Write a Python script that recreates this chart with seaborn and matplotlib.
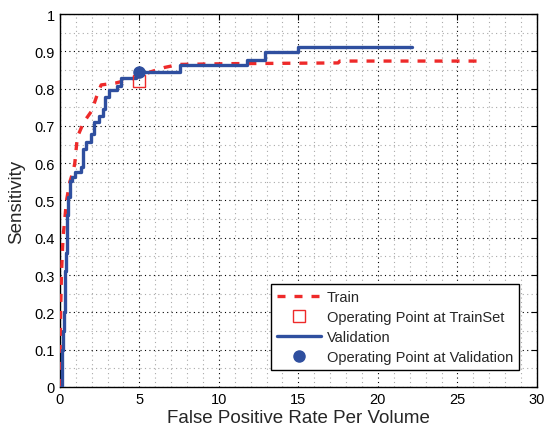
import matplotlib
matplotlib.use("Agg")
import matplotlib.pyplot as plt
from matplotlib.lines import Line2D
from matplotlib.ticker import MultipleLocator
import seaborn as sns
import pandas as pd

# ---- data ----
train_fpr = [0.0, 0.02, 0.05, 0.10, 0.20, 0.42, 0.63, 0.85, 0.94, 1.10, 1.50, 2.00,
             2.40, 2.60, 3.50, 4.40, 5.20, 5.70, 6.60, 7.50, 10.7, 17.5, 17.6, 26.6]
train_sens = [0.0, 0.10, 0.20, 0.30, 0.40, 0.50, 0.55, 0.58, 0.60, 0.67, 0.71, 0.74,
              0.79, 0.81, 0.815, 0.825, 0.835, 0.845, 0.857, 0.865, 0.867, 0.869, 0.874, 0.874]

val_fpr = [0.10, 0.12, 0.15, 0.20, 0.25, 0.30, 0.34, 0.38, 0.42, 0.46, 0.52, 0.63,
           0.75, 0.95, 1.30, 1.47, 1.64, 1.99, 2.16, 2.47, 2.69, 2.83, 3.10, 3.57,
           3.82, 4.78, 4.95, 7.55, 11.74, 12.90, 14.99, 22.16]
val_sens = [0.00, 0.05, 0.10, 0.15, 0.20, 0.26, 0.31, 0.36, 0.42, 0.46, 0.51, 0.553,
            0.562, 0.576, 0.59, 0.638, 0.658, 0.678, 0.71, 0.727, 0.745, 0.777, 0.797, 0.808,
            0.828, 0.839, 0.845, 0.863, 0.877, 0.899, 0.913, 0.913]

op_train = (5.0, 0.82)
op_val = (5.0, 0.845)

labels = ["Train", "Operating Point at TrainSet", "Validation", "Operating Point at Validation"]
ytick_vals = [0, 0.1, 0.2, 0.3, 0.4, 0.5, 0.6, 0.7, 0.8, 0.9, 1]
ytick_labels = ["0", "0.1", "0.2", "0.3", "0.4", "0.5", "0.6", "0.7", "0.8", "0.9", "1"]

RED = "#ee2a2a"
BLUE = "#2f4f9f"

sns.set_style("white")
plt.rcParams["font.family"] = ["Liberation Sans", "DejaVu Sans"]

fig = plt.figure(figsize=(5.44, 4.31), dpi=100)
ax = fig.add_axes([0.110, 0.100, 0.877, 0.865])

train_df = pd.DataFrame({"fpr": train_fpr, "sens": train_sens})
val_df = pd.DataFrame({"fpr": val_fpr, "sens": val_sens})

sns.lineplot(data=train_df, x="fpr", y="sens", ax=ax, color=RED, lw=2.4,
             sort=False, estimator=None, zorder=3)
ax.lines[-1].set_dashes((2.4, 2.7))
sns.lineplot(data=val_df, x="fpr", y="sens", ax=ax, color=BLUE, lw=2.4,
             sort=False, estimator=None, drawstyle="steps-post", zorder=4)
ax.plot([op_train[0]], [op_train[1]], marker="s", ms=9, mfc="none", mec=RED,
        mew=1.0, ls="none", zorder=5)
ax.plot([op_val[0]], [op_val[1]], marker="o", ms=8, mfc=BLUE, mec=BLUE,
        ls="none", zorder=6)

ax.set_xlim(0, 30)
ax.set_ylim(0, 1)
ax.xaxis.set_major_locator(MultipleLocator(5))
ax.xaxis.set_minor_locator(MultipleLocator(1))
ax.set_yticks(ytick_vals)
ax.set_yticklabels(ytick_labels)
ax.yaxis.set_minor_locator(MultipleLocator(0.05))

ax.grid(True, which="major", color="black", ls=(0, (1, 3)), lw=0.8)
ax.grid(True, which="minor", color="#aaaaaa", ls=(0, (1, 3)), lw=0.8)
ax.set_axisbelow(True)
ax.tick_params(which="both", direction="in", top=True, right=True, labelsize=10.5,
               length=4, width=0.8, colors="black")
ax.tick_params(which="minor", length=0)
for s in ax.spines.values():
    s.set_color("black")
    s.set_linewidth(1.0)

ax.set_xlabel("False Positive Rate Per Volume", fontsize=13.5, labelpad=2)
ax.set_ylabel("Sensitivity", fontsize=13.5, labelpad=7)

handles = [
    Line2D([], [], color=RED, lw=2.4, dashes=(2.4, 2.7)),
    Line2D([], [], marker="s", ms=9, mfc="none", mec=RED, mew=1.0, ls="none"),
    Line2D([], [], color=BLUE, lw=2.4),
    Line2D([], [], marker="o", ms=8, mfc=BLUE, mec=BLUE, ls="none"),
]
leg = ax.legend(handles, labels, loc="lower right", bbox_to_anchor=(0.962, 0.045),
                fontsize=10.5, frameon=True, fancybox=False, framealpha=1,
                edgecolor="black", handlelength=3.0, handletextpad=0.4,
                labelspacing=0.42, borderpad=0.4, borderaxespad=0)
leg.get_frame().set_linewidth(1.0)

fig.savefig("out.png", dpi=100)
